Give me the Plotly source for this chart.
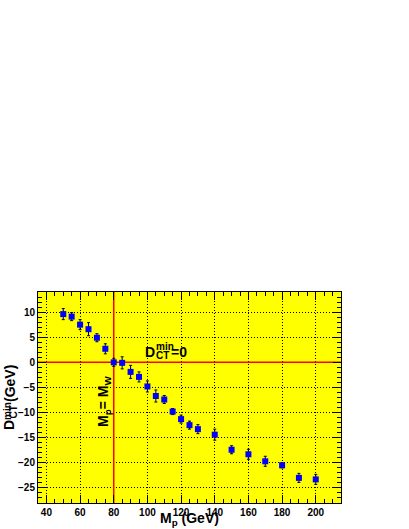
import plotly.graph_objects as go

# Scan points: mass hypothesis (GeV) and fitted minimum D_CT (GeV)
mass = [50, 55, 60, 65, 70, 75, 80, 85, 90, 95, 100, 105, 110, 115, 120,
        125, 130, 140, 150, 160, 170, 180, 190, 200]
dct_min = [9.6, 9.1, 7.5, 6.6, 4.9, 2.7, 0.0, -0.1, -1.9, -2.9, -4.8, -6.7,
           -7.4, -9.8, -11.3, -12.5, -13.3, -14.4, -17.4, -18.3, -19.7,
           -20.5, -23.0, -23.3]
dct_err = [1.1, 0.8, 1.0, 1.3, 0.8, 1.0, 0.8, 1.2, 1.3, 1.0, 1.1, 1.2, 0.8,
           0.6, 0.8, 0.8, 0.9, 1.1, 0.8, 1.0, 1.0, 0.5, 0.9, 1.0]

M_W = 80
X_RANGE = [35, 215]
Y_RANGE = [-28, 14]

FONT = "Liberation Sans"

W, H = 409, 529
# plot frame in pixels (ROOT-style canvas)
X0, X1, Y0, Y1 = 38, 341, 292, 503


def px(x):
    return (x - X0) / (X1 - X0)


def py(y):
    return (Y1 - y) / (Y1 - Y0)


def bold(size):
    return dict(family=FONT, size=size, color="black", weight="bold")


fig = go.Figure()

# Reference lines
fig.add_trace(go.Scatter(x=[M_W, M_W], y=Y_RANGE, mode="lines",
                         line=dict(color="#ff0000", width=1.5),
                         hoverinfo="skip", showlegend=False))
fig.add_trace(go.Scatter(x=X_RANGE, y=[0, 0], mode="lines",
                         line=dict(color="#ff0000", width=1.5),
                         hoverinfo="skip", showlegend=False))

fig.add_trace(go.Scatter(
    x=mass, y=dct_min, mode="markers",
    marker=dict(symbol="square", size=6, color="#0000ff"),
    error_y=dict(type="data", array=dct_err, color="black",
                 thickness=1, width=1.5),
    showlegend=False,
))

axis_common = dict(
    showline=True, linecolor="black", linewidth=1, mirror="ticks",
    ticks="inside", ticklen=8, tickcolor="black",
    showgrid=True, gridcolor="black", griddash="1px,2px", gridwidth=1,
    zeroline=False, automargin=False,
    tickfont=bold(10),
)

fig.update_xaxes(
    range=X_RANGE, dtick=20, tick0=0,
    minor=dict(dtick=5, ticks="inside", ticklen=4, tickcolor="black",
               showgrid=False),
    **axis_common,
)
fig.update_yaxes(
    range=Y_RANGE, dtick=5, tick0=0,
    minor=dict(dtick=1, ticks="inside", ticklen=4, tickcolor="black",
               showgrid=False),
    **axis_common,
)


def label(text, x, y, size, angle=0, xanchor="center"):
    fig.add_annotation(x=px(x), y=py(y), xref="paper", yref="paper",
                       xanchor=xanchor, yanchor="middle", showarrow=False,
                       text=text, textangle=angle, font=bold(size))


# D_CT^min = 0 label (stacked super/subscript)
label("D", 143, 352, 14, xanchor="left")
label("min", 153.5, 346, 10, xanchor="left")
label("CT", 154, 355.5, 10, xanchor="left")
label("=0", 168.5, 352, 14, xanchor="left")

# M_p = M_W label along the red line
label("M<sub>p</sub>= M<sub>W</sub>", 104, 402, 14, angle=-90)

# y axis title
label("D", 9, 425, 14, angle=-90)
label("min", 7.5, 411.5, 10, angle=-90)
label("CT", 12.5, 412, 10, angle=-90)
label("(GeV)", 9.5, 383.5, 14, angle=-90)

# x axis title
label("M<sub>p</sub> (GeV)", 189, 519, 14)

fig.update_layout(
    width=W, height=H,
    margin=dict(l=X0, r=W - X1, t=Y0, b=H - Y1, autoexpand=False),
    paper_bgcolor="white", plot_bgcolor="#ffff00",
    showlegend=False,
)

# drop the default page margin so the canvas fills the window
fig.write_html("out.html", config={"displayModeBar": False},
               post_script="document.body.style.margin='0';")
